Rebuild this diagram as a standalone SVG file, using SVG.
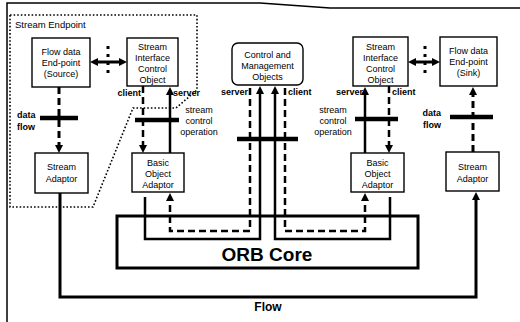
<svg xmlns="http://www.w3.org/2000/svg" width="520" height="322" viewBox="0 0 520 322">
<style>
  text { font-family: "Liberation Sans", Arial, sans-serif; fill: #000; }
  .bt { font-size: 9px; text-anchor: middle; }
  .lb { font-size: 9px; font-weight: bold; }
  .op { font-size: 9px; text-anchor: middle; }
  .box { fill: #fff; stroke: #000; stroke-width: 1.4; }
  .solid { fill: none; stroke: #000; stroke-width: 2.5; }
  .dash { fill: none; stroke: #000; stroke-width: 2.5; stroke-dasharray: 7,4; }
  .bar { fill: none; stroke: #000; stroke-width: 4.5; }
  .dots { fill: none; stroke: #000; stroke-width: 3; stroke-dasharray: 3,5; }
  .arr { marker-end: url(#ah); }
</style>
<defs>
  <marker id="ah" viewBox="0 0 10 10" refX="0" refY="5" markerWidth="8" markerHeight="8" markerUnits="userSpaceOnUse" orient="auto-start-reverse">
    <path d="M0,0 L10,5 L0,10 z" fill="#000"/>
  </marker>
</defs>

<g id="frame">
  <path d="M7,322 V3 H260 L330,8 H520" fill="none" stroke="#000" stroke-width="1.5"/>
</g>

<g id="stream-endpoint">
  <path d="M10,15 H197 V90 L176,108 H133 L93,207 H10 Z" fill="none" stroke="#000" stroke-width="1.6" stroke-dasharray="1.6,2"/>
  <text x="15" y="28" style="font-size:9.5px">Stream Endpoint</text>
</g>

<g id="orb-core">
  <rect x="117" y="216" width="301" height="52" fill="#fff" stroke="#000" stroke-width="3"/>
  <text x="267" y="261" style="font-size:19px;font-weight:bold;text-anchor:middle">ORB Core</text>
</g>

<g id="connectors">
  <!-- left side -->
  <path class="dash arr" d="M59,87 V145" style="stroke-width:3"/>
  <path class="bar" d="M40,118 H78"/>
  <path class="solid arr" d="M98,62 H119" style="stroke-width:3;marker-start:url(#ah)"/>
  <path class="dots" d="M108,46 V78"/>
  <path class="dash arr" d="M143,86 V145"/>
  <path class="solid arr" d="M170,153 V95"/>
  <path class="bar" d="M135,120 H179"/>
  <!-- centre -->
  <path class="solid arr" d="M145,197 V239 H260 V94"/>
  <path class="solid arr" d="M390,197 V239 H275 V94"/>
  <path class="dash arr" d="M250,88 V231 H170 V201"/>
  <path class="dash arr" d="M285,88 V231 H365 V201"/>
  <path class="bar" d="M237,139 H298"/>
  <!-- right side -->
  <path class="solid arr" d="M365,153 V95"/>
  <path class="dash arr" d="M389,86 V145"/>
  <path class="bar" d="M355,119 H398"/>
  <path class="solid arr" d="M416,62 H432" style="stroke-width:3;marker-start:url(#ah)"/>
  <path class="dots" d="M425,46 V78"/>
  <path class="dash arr" d="M473,152 V95" style="stroke-width:3"/>
  <path class="bar" d="M450,117 H493"/>
  <!-- flow -->
  <path class="solid arr" d="M60,193 V297 H476 V200" style="stroke-width:3"/>
</g>

<g id="labels">
  <text class="lb" x="17" y="118">data</text>
  <text class="lb" x="17" y="130">flow</text>
  <text class="lb" x="141" y="96" text-anchor="end">client</text>
  <text class="lb" x="173" y="96">server</text>
  <text class="op" x="199" y="113">stream</text>
  <text class="op" x="199" y="124">control</text>
  <text class="op" x="199" y="135">operation</text>
  <text class="lb" x="248" y="95" text-anchor="end">server</text>
  <text class="lb" x="288" y="95">client</text>
  <text class="lb" x="363" y="95" text-anchor="end">server</text>
  <text class="lb" x="392" y="95">client</text>
  <text class="op" x="333" y="113">stream</text>
  <text class="op" x="333" y="124">control</text>
  <text class="op" x="333" y="135">operation</text>
  <text class="lb" x="441" y="116" text-anchor="end">data</text>
  <text class="lb" x="441" y="128" text-anchor="end">flow</text>
  <text x="268" y="311" style="font-size:12px;font-weight:bold;text-anchor:middle">Flow</text>
</g>

<g id="source">
  <rect class="box" x="32" y="38" width="58" height="49"/>
  <text class="bt" x="61" y="54.5">Flow data</text>
  <text class="bt" x="61" y="65.5">End-point</text>
  <text class="bt" x="61" y="76.5">(Source)</text>
</g>

<g id="sico-left">
  <rect class="box" x="127" y="38" width="51" height="48"/>
  <text class="bt" x="152.5" y="49.5">Stream</text>
  <text class="bt" x="152.5" y="60.5">Interface</text>
  <text class="bt" x="152.5" y="71.5">Control</text>
  <text class="bt" x="152.5" y="82.5">Object</text>
</g>

<g id="cmo">
  <rect class="box" x="232" y="43" width="71" height="42" rx="6"/>
  <text class="bt" x="267.5" y="57.5">Control and</text>
  <text class="bt" x="267.5" y="68.5">Management</text>
  <text class="bt" x="267.5" y="79.5">Objects</text>
</g>

<g id="sico-right">
  <rect class="box" x="353" y="37" width="55" height="49"/>
  <text class="bt" x="380.5" y="49.5">Stream</text>
  <text class="bt" x="380.5" y="60.5">Interface</text>
  <text class="bt" x="380.5" y="71.5">Control</text>
  <text class="bt" x="380.5" y="82.5">Object</text>
</g>

<g id="sink">
  <rect class="box" x="440" y="37" width="57" height="49"/>
  <text class="bt" x="468.5" y="54">Flow data</text>
  <text class="bt" x="468.5" y="65">End-point</text>
  <text class="bt" x="468.5" y="76">(Sink)</text>
</g>

<g id="stream-adaptor-left">
  <rect class="box" x="35" y="153" width="53" height="40"/>
  <text class="bt" x="61.5" y="170">Stream</text>
  <text class="bt" x="61.5" y="182">Adaptor</text>
</g>

<g id="boa-left">
  <rect class="box" x="132" y="153" width="52" height="39"/>
  <text class="bt" x="158" y="165.5">Basic</text>
  <text class="bt" x="158" y="176.5">Object</text>
  <text class="bt" x="158" y="187.5">Adaptor</text>
</g>

<g id="boa-right">
  <rect class="box" x="351" y="153" width="53" height="39"/>
  <text class="bt" x="377.5" y="165.5">Basic</text>
  <text class="bt" x="377.5" y="176.5">Object</text>
  <text class="bt" x="377.5" y="187.5">Adaptor</text>
</g>

<g id="stream-adaptor-right">
  <rect class="box" x="446" y="152" width="53" height="39"/>
  <text class="bt" x="472.5" y="169.5">Stream</text>
  <text class="bt" x="472.5" y="181.5">Adaptor</text>
</g>
</svg>
